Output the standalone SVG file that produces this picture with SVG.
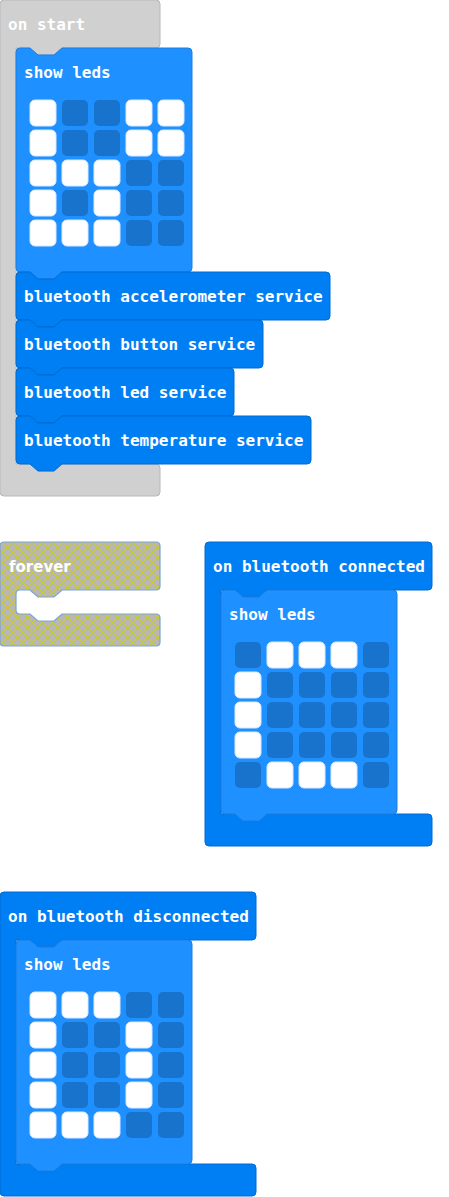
<svg xmlns="http://www.w3.org/2000/svg" width="449" height="1197" viewBox="0 0 449 1197">
<defs>
<pattern id="dis" patternUnits="userSpaceOnUse" width="5" height="5">
<rect width="5" height="5" fill="#b6b6b6"/>
<path d="M0 0 L5 5 M5 0 L0 5" stroke="#d6d400" stroke-width="0.6"/>
</pattern>
</defs>
<style>
.gray{fill:#d0d0d0;stroke:#b8b8b8;stroke-width:1}
.evt{fill:#007ef4;stroke:#006ad0;stroke-width:1}
.bt{fill:#007ef4;stroke:#006ad0;stroke-width:1}
.leds{fill:#1e90ff;stroke:#1a7ee0;stroke-width:1}
.forever{fill:url(#dis);stroke:#7aa3d6;stroke-width:1.2}
.on{fill:#ffffff;stroke:#dbe9ff;stroke-width:1}
.off{fill:#1873cd}
.t{font-family:"DejaVu Sans Mono","Liberation Mono",monospace;font-weight:bold;font-size:16px;fill:#ffffff}
.ts{font-family:"DejaVu Sans","Liberation Sans",sans-serif;font-weight:bold;font-size:15px;fill:#ffffff}
</style>
<rect width="449" height="1197" fill="#ffffff"/>
<g id="connectors"/>

<g id="on-start">
<path class="gray" d="M4,0 H156 Q160,0 160,4 V44 Q160,48 156,48 H62 l-8,7 h-16 l-8,-7 H16 V464 H30 l8,7 h16 l8,-7 H156 Q160,464 160,468 V492 Q160,496 156,496 H4 Q0,496 0,492 V4 Q0,0 4,0 Z"/>
<text class="t" x="8" y="30">on start</text>
</g>

<g id="show-leds-1">
<path class="leds" d="M16,52 Q16,48 20,48 H30 l8,7 h16 l8,-7 H188 Q192,48 192,52 V268 Q192,272 188,272 H62 l-8,7 h-16 l-8,-7 H20 Q16,272 16,268 Z"/>
<text class="t" x="24" y="78">show leds</text>
<rect class="on" x="30" y="100" width="26" height="26" rx="5"/>
<rect class="off" x="62" y="100" width="26" height="26" rx="5"/>
<rect class="off" x="94" y="100" width="26" height="26" rx="5"/>
<rect class="on" x="126" y="100" width="26" height="26" rx="5"/>
<rect class="on" x="158" y="100" width="26" height="26" rx="5"/>
<rect class="on" x="30" y="130" width="26" height="26" rx="5"/>
<rect class="off" x="62" y="130" width="26" height="26" rx="5"/>
<rect class="off" x="94" y="130" width="26" height="26" rx="5"/>
<rect class="on" x="126" y="130" width="26" height="26" rx="5"/>
<rect class="on" x="158" y="130" width="26" height="26" rx="5"/>
<rect class="on" x="30" y="160" width="26" height="26" rx="5"/>
<rect class="on" x="62" y="160" width="26" height="26" rx="5"/>
<rect class="on" x="94" y="160" width="26" height="26" rx="5"/>
<rect class="off" x="126" y="160" width="26" height="26" rx="5"/>
<rect class="off" x="158" y="160" width="26" height="26" rx="5"/>
<rect class="on" x="30" y="190" width="26" height="26" rx="5"/>
<rect class="off" x="62" y="190" width="26" height="26" rx="5"/>
<rect class="on" x="94" y="190" width="26" height="26" rx="5"/>
<rect class="off" x="126" y="190" width="26" height="26" rx="5"/>
<rect class="off" x="158" y="190" width="26" height="26" rx="5"/>
<rect class="on" x="30" y="220" width="26" height="26" rx="5"/>
<rect class="on" x="62" y="220" width="26" height="26" rx="5"/>
<rect class="on" x="94" y="220" width="26" height="26" rx="5"/>
<rect class="off" x="126" y="220" width="26" height="26" rx="5"/>
<rect class="off" x="158" y="220" width="26" height="26" rx="5"/>
</g>

<g id="bt-accelerometer">
<path class="bt" d="M16,276 Q16,272 20,272 H30 l8,7 h16 l8,-7 H326 Q330,272 330,276 V316 Q330,320 326,320 H62 l-8,7 h-16 l-8,-7 H20 Q16,320 16,316 Z"/>
<text class="t" x="24" y="302">bluetooth accelerometer service</text>
</g>
<g id="bt-button">
<path class="bt" d="M16,324 Q16,320 20,320 H30 l8,7 h16 l8,-7 H259 Q263,320 263,324 V364 Q263,368 259,368 H62 l-8,7 h-16 l-8,-7 H20 Q16,368 16,364 Z"/>
<text class="t" x="24" y="350">bluetooth button service</text>
</g>
<g id="bt-led">
<path class="bt" d="M16,372 Q16,368 20,368 H30 l8,7 h16 l8,-7 H230 Q234,368 234,372 V412 Q234,416 230,416 H62 l-8,7 h-16 l-8,-7 H20 Q16,416 16,412 Z"/>
<text class="t" x="24" y="398">bluetooth led service</text>
</g>
<g id="bt-temperature">
<path class="bt" d="M16,420 Q16,416 20,416 H30 l8,7 h16 l8,-7 H307 Q311,416 311,420 V460 Q311,464 307,464 H62 l-8,7 h-16 l-8,-7 H20 Q16,464 16,460 Z"/>
<text class="t" x="24" y="446">bluetooth temperature service</text>
</g>

<g id="forever">
<path class="forever" d="M4,542 H156 Q160,542 160,546 V586 Q160,590 156,590 H62 l-8,7 h-16 l-8,-7 H20 Q16,590 16,594 V610 Q16,614 20,614 H30 l8,7 h16 l8,-7 H156 Q160,614 160,618 V642 Q160,646 156,646 H4 Q0,646 0,642 V546 Q0,542 4,542 Z"/>
<text class="ts" x="9" y="572">forever</text>
</g>

<g id="on-connected">
<path class="evt" d="M209,542 H428 Q432,542 432,546 V586 Q432,590 428,590 H267 l-8,7 h-16 l-8,-7 H221 V814 H235 l8,7 h16 l8,-7 H428 Q432,814 432,818 V842 Q432,846 428,846 H209 Q205,846 205,842 V546 Q205,542 209,542 Z"/>
<text class="t" x="213" y="572">on bluetooth connected</text>
</g>
<g id="show-leds-2">
<path class="leds" d="M221,594 Q221,590 225,590 H235 l8,7 h16 l8,-7 H393 Q397,590 397,594 V810 Q397,814 393,814 H267 l-8,7 h-16 l-8,-7 H225 Q221,814 221,810 Z"/>
<text class="t" x="229" y="620">show leds</text>
<rect class="off" x="235" y="642" width="26" height="26" rx="5"/>
<rect class="on" x="267" y="642" width="26" height="26" rx="5"/>
<rect class="on" x="299" y="642" width="26" height="26" rx="5"/>
<rect class="on" x="331" y="642" width="26" height="26" rx="5"/>
<rect class="off" x="363" y="642" width="26" height="26" rx="5"/>
<rect class="on" x="235" y="672" width="26" height="26" rx="5"/>
<rect class="off" x="267" y="672" width="26" height="26" rx="5"/>
<rect class="off" x="299" y="672" width="26" height="26" rx="5"/>
<rect class="off" x="331" y="672" width="26" height="26" rx="5"/>
<rect class="off" x="363" y="672" width="26" height="26" rx="5"/>
<rect class="on" x="235" y="702" width="26" height="26" rx="5"/>
<rect class="off" x="267" y="702" width="26" height="26" rx="5"/>
<rect class="off" x="299" y="702" width="26" height="26" rx="5"/>
<rect class="off" x="331" y="702" width="26" height="26" rx="5"/>
<rect class="off" x="363" y="702" width="26" height="26" rx="5"/>
<rect class="on" x="235" y="732" width="26" height="26" rx="5"/>
<rect class="off" x="267" y="732" width="26" height="26" rx="5"/>
<rect class="off" x="299" y="732" width="26" height="26" rx="5"/>
<rect class="off" x="331" y="732" width="26" height="26" rx="5"/>
<rect class="off" x="363" y="732" width="26" height="26" rx="5"/>
<rect class="off" x="235" y="762" width="26" height="26" rx="5"/>
<rect class="on" x="267" y="762" width="26" height="26" rx="5"/>
<rect class="on" x="299" y="762" width="26" height="26" rx="5"/>
<rect class="on" x="331" y="762" width="26" height="26" rx="5"/>
<rect class="off" x="363" y="762" width="26" height="26" rx="5"/>
</g>

<g id="on-disconnected">
<path class="evt" d="M4,892 H252 Q256,892 256,896 V936 Q256,940 252,940 H62 l-8,7 h-16 l-8,-7 H16 V1164 H30 l8,7 h16 l8,-7 H252 Q256,1164 256,1168 V1192 Q256,1196 252,1196 H4 Q0,1196 0,1192 V896 Q0,892 4,892 Z"/>
<text class="t" x="8" y="922">on bluetooth disconnected</text>
</g>
<g id="show-leds-3">
<path class="leds" d="M16,944 Q16,940 20,940 H30 l8,7 h16 l8,-7 H188 Q192,940 192,944 V1160 Q192,1164 188,1164 H62 l-8,7 h-16 l-8,-7 H20 Q16,1164 16,1160 Z"/>
<text class="t" x="24" y="970">show leds</text>
<rect class="on" x="30" y="992" width="26" height="26" rx="5"/>
<rect class="on" x="62" y="992" width="26" height="26" rx="5"/>
<rect class="on" x="94" y="992" width="26" height="26" rx="5"/>
<rect class="off" x="126" y="992" width="26" height="26" rx="5"/>
<rect class="off" x="158" y="992" width="26" height="26" rx="5"/>
<rect class="on" x="30" y="1022" width="26" height="26" rx="5"/>
<rect class="off" x="62" y="1022" width="26" height="26" rx="5"/>
<rect class="off" x="94" y="1022" width="26" height="26" rx="5"/>
<rect class="on" x="126" y="1022" width="26" height="26" rx="5"/>
<rect class="off" x="158" y="1022" width="26" height="26" rx="5"/>
<rect class="on" x="30" y="1052" width="26" height="26" rx="5"/>
<rect class="off" x="62" y="1052" width="26" height="26" rx="5"/>
<rect class="off" x="94" y="1052" width="26" height="26" rx="5"/>
<rect class="on" x="126" y="1052" width="26" height="26" rx="5"/>
<rect class="off" x="158" y="1052" width="26" height="26" rx="5"/>
<rect class="on" x="30" y="1082" width="26" height="26" rx="5"/>
<rect class="off" x="62" y="1082" width="26" height="26" rx="5"/>
<rect class="off" x="94" y="1082" width="26" height="26" rx="5"/>
<rect class="on" x="126" y="1082" width="26" height="26" rx="5"/>
<rect class="off" x="158" y="1082" width="26" height="26" rx="5"/>
<rect class="on" x="30" y="1112" width="26" height="26" rx="5"/>
<rect class="on" x="62" y="1112" width="26" height="26" rx="5"/>
<rect class="on" x="94" y="1112" width="26" height="26" rx="5"/>
<rect class="off" x="126" y="1112" width="26" height="26" rx="5"/>
<rect class="off" x="158" y="1112" width="26" height="26" rx="5"/>
</g>
</svg>
